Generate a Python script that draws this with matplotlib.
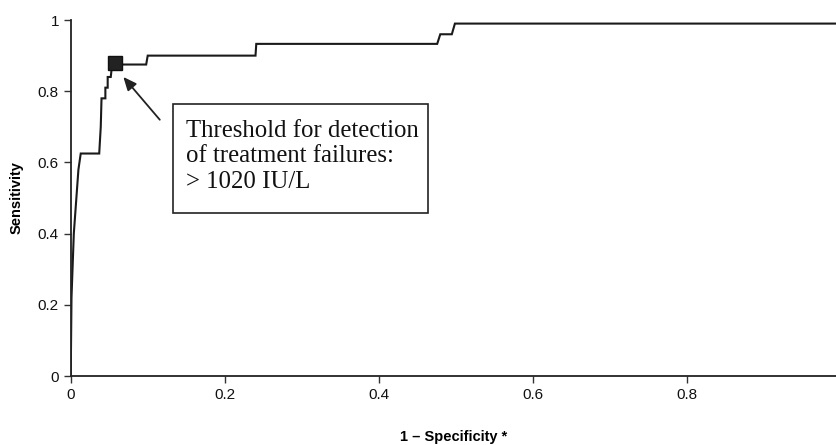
#!/usr/bin/python3

import matplotlib.pyplot as plt
from matplotlib.patches import Rectangle

# ROC curve vertices (1 - specificity, sensitivity)
fpr = [0.0, 0.001, 0.004, 0.006, 0.008, 0.010, 0.013, 0.037, 0.039, 0.040,
       0.045, 0.045, 0.048, 0.048, 0.052, 0.053, 0.056, 0.098, 0.100, 0.240,
       0.241, 0.476, 0.480, 0.495, 0.499, 1.0]
tpr = [0.0, 0.22, 0.40, 0.46, 0.52, 0.58, 0.625, 0.625, 0.70, 0.78,
       0.78, 0.81, 0.81, 0.84, 0.84, 0.86, 0.875, 0.875, 0.90, 0.90,
       0.933, 0.933, 0.96, 0.96, 0.99, 0.99]

# chosen threshold point
thr_fpr = 0.0575
thr_tpr = 0.879
thr_text = "Threshold for detection\nof treatment failures:\n> 1020 IU/L"

xticks = [0, 0.2, 0.4, 0.6, 0.8]
xticklabels = ["0", "0.2", "0.4", "0.6", "0.8"]
yticks = [0, 0.2, 0.4, 0.6, 0.8, 1.0]
yticklabels = ["0", "0.2", "0.4", "0.6", "0.8", "1"]

plt.rcParams["font.family"] = ["Liberation Sans", "DejaVu Sans"]

fig = plt.figure(figsize=(8.36, 4.45), dpi=100)
ax = fig.add_axes([0.0846, 0.155, 0.9154, 0.80])

ax.plot(fpr, tpr, color="#1a1a1a", linewidth=1.5, solid_joinstyle="miter")
ax.plot([thr_fpr], [thr_tpr], marker="s", markersize=10.5, color="#222222",
        markeredgecolor="#111111", linestyle="none")

# arrow pointing at the threshold
ax.annotate("", xy=(0.066, 0.846), xytext=(0.118, 0.714),
            arrowprops=dict(arrowstyle="-|>,head_length=0.8,head_width=0.35",
                            color="#222222", linewidth=1.3))

# text box
fig.add_artist(Rectangle((173 / 836, 1 - 213 / 445), 255 / 836, 109 / 445,
                         transform=fig.transFigure, fill=False,
                         edgecolor="#222222", linewidth=1.2))
fig.text(186 / 836, 1 - 120 / 445, thr_text, ha="left", va="top",
         fontsize=17.8, family=["Liberation Serif", "DejaVu Serif"],
         color="#111111", linespacing=1.2)

ax.set_xlim(0, 0.994)
ax.set_ylim(0, 1)
ax.set_xticks(xticks)
ax.set_xticklabels(xticklabels)
ax.set_yticks(yticks)
ax.set_yticklabels(yticklabels)
ax.tick_params(axis="both", direction="out", length=5, width=1,
               labelsize=11, color="#333333", labelcolor="#111111")

for side in ["top", "right"]:
    ax.spines[side].set_visible(False)
for side in ["left", "bottom"]:
    ax.spines[side].set_linewidth(1.3)
    ax.spines[side].set_color("#222222")

ax.set_xlabel("1 \u2013 Specificity *", fontsize=10.5, fontweight="bold", labelpad=20)
ax.set_ylabel("Sensitivity", fontsize=10.5, fontweight="bold", labelpad=10)

fig.savefig("out.png", dpi=100)
